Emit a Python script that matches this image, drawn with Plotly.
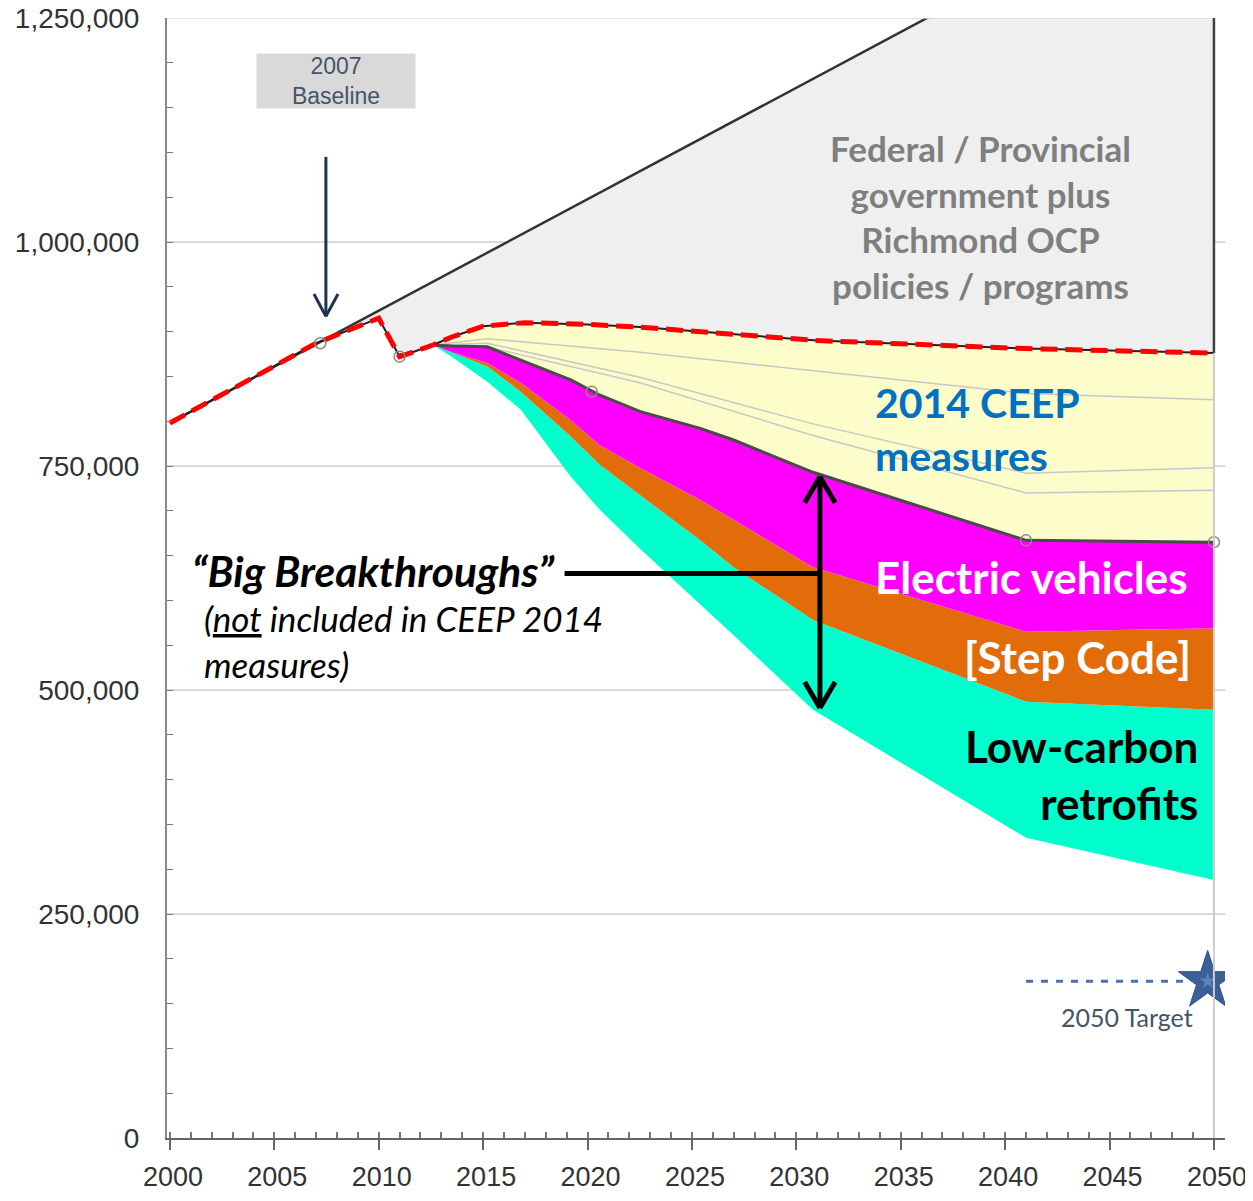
import plotly.graph_objects as go

# business-as-usual trend (straight black line)
bau_years = [2000, 2007, 2050]
bau_tonnes = [798000, 886000, 1421000]

# federal / provincial + Richmond OCP policies (red dashed line)
policy_years = [2000, 2007, 2010, 2011, 2012.6, 2013.5, 2015, 2017, 2020, 2022.5, 2031, 2041, 2050]
policy_tonnes = [798000, 887000, 915000, 872000, 885000, 894000, 906000, 910000, 908000, 905000, 890000, 881000, 876000]

# stacked wedges below the 2014 CEEP line
measure_years = [2012.6, 2013.5, 2015.2, 2016.8, 2019.2, 2020.6, 2022.5, 2025.4, 2027, 2030.8, 2041, 2050]
ceep_tonnes = [885000, 884000, 883000, 868000, 846000, 829000, 811000, 792000, 779000, 743000, 667000, 665000]
ev_floor = [885000, 877000, 865000, 843000, 801000, 773000, 748000, 712000, 690000, 637000, 565000, 569000]
step_floor = [885000, 877000, 861000, 833000, 783000, 751000, 718000, 667000, 637000, 578000, 487000, 478000]
retrofit_floor = [885000, 872000, 844000, 813000, 738000, 701000, 658000, 596000, 561000, 478000, 335000, 288000]

# thin grey lines inside the CEEP measures wedge
sub_years = [2012.6, 2015.2, 2022.5, 2030.8, 2041, 2050]
sub_a = [885000, 892000, 877000, 856000, 831000, 824000]
sub_b = [885000, 887000, 849000, 797000, 742000, 748000]
sub_c = [885000, 883000, 843000, 784000, 720000, 723000]

# hollow circle markers
baseline_pts = [(2007.2, 887000), (2011, 872000)]
ceep_pts = [(2020.2, 833000), (2041, 667000), (2050, 665000)]

# 2050 target
target_years = [2041, 2048.6]
target_tonnes = 175000
target_year = 2049.7

Y_MAX = 1250000
LATO = "Lato"
ARIAL = "Liberation Sans"

fig = go.Figure()

# grey wedge between BAU and policy line
fig.add_trace(go.Scatter(x=policy_years, y=policy_tonnes, mode="lines",
                         line=dict(width=0), hoverinfo="skip"))
fig.add_trace(go.Scatter(x=bau_years, y=bau_tonnes, mode="lines", fill="tonexty",
                         fillcolor="#efefef", line=dict(color="#333333", width=2.5)))

# stacked breakthroughs
fig.add_trace(go.Scatter(x=measure_years, y=retrofit_floor, mode="lines",
                         line=dict(width=0)))
fig.add_trace(go.Scatter(x=measure_years, y=step_floor, mode="lines", fill="tonexty",
                         fillcolor="#00ffcc", line=dict(width=0)))
fig.add_trace(go.Scatter(x=measure_years, y=ev_floor, mode="lines", fill="tonexty",
                         fillcolor="#e36c0a", line=dict(width=0)))
fig.add_trace(go.Scatter(x=measure_years, y=ceep_tonnes, mode="lines", fill="tonexty",
                         fillcolor="#ff00ff", line=dict(width=0)))

# yellow CEEP measures wedge
upper_years = [y for y in policy_years if y >= measure_years[0]]
upper_tonnes = [t for y, t in zip(policy_years, policy_tonnes) if y >= measure_years[0]]
fig.add_trace(go.Scatter(x=upper_years, y=upper_tonnes, mode="lines", fill="tonexty",
                         fillcolor="#fdfccb", line=dict(width=0)))

for sub in [sub_a, sub_b, sub_c]:
    fig.add_trace(go.Scatter(x=sub_years, y=sub, mode="lines",
                             line=dict(color="#c8c8c8", width=1.5)))

fig.add_trace(go.Scatter(x=measure_years, y=ceep_tonnes, mode="lines",
                         line=dict(color="#4a4a4a", width=3)))

# policy line: thin black under thick red dashes
fig.add_trace(go.Scatter(x=policy_years, y=policy_tonnes, mode="lines",
                         line=dict(color="#222222", width=2)))
fig.add_trace(go.Scatter(x=policy_years, y=policy_tonnes, mode="lines",
                         line=dict(color="#ff0000", width=5, dash="17px,8px")))

pts = baseline_pts + ceep_pts
fig.add_trace(go.Scatter(x=[p[0] for p in pts], y=[p[1] for p in pts], mode="markers",
                         marker=dict(size=11, color="rgba(0,0,0,0)",
                                     line=dict(color="#8a8a8a", width=1.5))))

# target
fig.add_trace(go.Scatter(x=target_years, y=[target_tonnes] * len(target_years), mode="lines",
                         line=dict(color="#4a72b0", width=3, dash="7px,8px")))
fig.add_trace(go.Scatter(x=[target_year], y=[target_tonnes], mode="markers",
                         marker=dict(symbol="star", size=44, color="#3b5f96",
                                     line=dict(color="#2f4f80", width=1))))
fig.add_trace(go.Scatter(x=[target_year], y=[target_tonnes], mode="markers",
                         marker=dict(symbol="star", size=12, color="#5b84c4")))

shapes = [
    # top gridline
    dict(type="line", x0=1999.86, x1=2050, y0=Y_MAX, y1=Y_MAX,
         line=dict(color="#d9d9d9", width=1.5)),
    # right edge: dark above policy line, light below
    dict(type="line", x0=2050, x1=2050, y0=policy_tonnes[-1], y1=Y_MAX,
         line=dict(color="#404040", width=2.5)),
    dict(type="line", x0=2050, x1=2050, y0=0, y1=policy_tonnes[-1],
         line=dict(color="#cccccc", width=2)),
    # baseline arrow
    dict(type="line", x0=2007.47, x1=2007.47, y0=1095000, y1=917000,
         line=dict(color="#1f3050", width=3)),
    dict(type="line", x0=2006.9, x1=2007.47, y0=942000, y1=917000,
         line=dict(color="#1f3050", width=3)),
    dict(type="line", x0=2008.05, x1=2007.47, y0=942000, y1=917000,
         line=dict(color="#1f3050", width=3)),
    # big breakthroughs connector + double arrow
    dict(type="line", x0=2018.9, x1=2031.13, y0=630000, y1=630000,
         line=dict(color="black", width=5)),
    dict(type="line", x0=2031.13, x1=2031.13, y0=480000, y1=738000,
         line=dict(color="black", width=5)),
    dict(type="line", x0=2030.4, x1=2031.13, y0=709000, y1=738000,
         line=dict(color="black", width=5)),
    dict(type="line", x0=2031.86, x1=2031.13, y0=709000, y1=738000,
         line=dict(color="black", width=5)),
    dict(type="line", x0=2030.4, x1=2031.13, y0=509000, y1=480000,
         line=dict(color="black", width=5)),
    dict(type="line", x0=2031.86, x1=2031.13, y0=509000, y1=480000,
         line=dict(color="black", width=5)),
]

annotations = [
    dict(x=2007.95, y=1180000, text="2007<br>Baseline", showarrow=False,
         bgcolor="#d9d9d9", width=156, height=52,
         font=dict(family=ARIAL, size=23, color="#44546a")),
    dict(x=2038.84, y=1028000, text="<b>Federal / Provincial<br>government plus<br>Richmond OCP<br>policies / programs</b>",
         showarrow=False, font=dict(family=LATO, size=35, color="#7f7f7f"),
         align="center"),
    dict(x=2033.67, y=791000, xanchor="left", align="left", showarrow=False,
         text="<b>2014 CEEP<br>measures</b>", font=dict(family=LATO, size=41, color="#0070c0")),
    dict(x=2033.67, y=626000, xanchor="left", showarrow=False,
         text="<b>Electric vehicles</b>", font=dict(family=LATO, size=44, color="white")),
    dict(x=2049.0, y=537000, xanchor="right", showarrow=False,
         text="<b>[Step Code]</b>", font=dict(family=LATO, size=44, color="white")),
    dict(x=2049.33, y=406000, xanchor="right", align="right", showarrow=False,
         text="<b>Low-carbon<br>retrofits</b>", font=dict(family=LATO, size=44, color="black")),
    dict(x=2000.96, y=633000, xanchor="left", showarrow=False,
         text="<b><i>“Big Breakthroughs”</i></b>", font=dict(family=LATO, size=42.5, color="black")),
    dict(x=2001.53, y=555000, xanchor="left", align="left", showarrow=False,
         text="<i>(<u>not</u> included in CEEP 2014<br>measures)</i>",
         font=dict(family=LATO, size=35, color="black")),
    dict(x=2045.83, y=135000, showarrow=False, text="2050 Target",
         font=dict(family=LATO, size=25, color="#44546a")),
]

# page body adds an 8px margin, so the figure is sized to sit inside it
fig.update_layout(
    width=1245, height=1185,
    margin=dict(l=159, r=28, t=10, b=55),
    plot_bgcolor="white", paper_bgcolor="white",
    showlegend=False,
    shapes=shapes,
    annotations=annotations,
)
fig.update_xaxes(range=[1999.86, 2050.53], tick0=2000, dtick=5, automargin=False,
                 ticks="outside", ticklen=10, tickwidth=2, tickcolor="#666666",
                 minor=dict(dtick=1, ticks="inside", ticklen=6, tickcolor="#777777", showgrid=False),
                 showline=True, linecolor="#666666", linewidth=2,
                 showgrid=False, zeroline=False,
                 ticklabelstandoff=4, ticklabelshift=3, ticklabeloverflow="allow",
                 tickfont=dict(family=ARIAL, size=27, color="#333333"))
fig.update_yaxes(range=[0, Y_MAX], dtick=250000, tickformat=",", automargin=False,
                 ticks="inside", ticklen=6, tickcolor="#777777",
                 minor=dict(dtick=50000, ticks="inside", ticklen=6, tickcolor="#777777", showgrid=False),
                 showline=True, linecolor="#888888", linewidth=2,
                 showgrid=True, gridcolor="#d9d9d9", gridwidth=1.5, zeroline=False,
                 ticklabelstandoff=20, ticklabeloverflow="allow",
                 tickfont=dict(family=ARIAL, size=28, color="#333333"))

fig.write_html("out.html")
